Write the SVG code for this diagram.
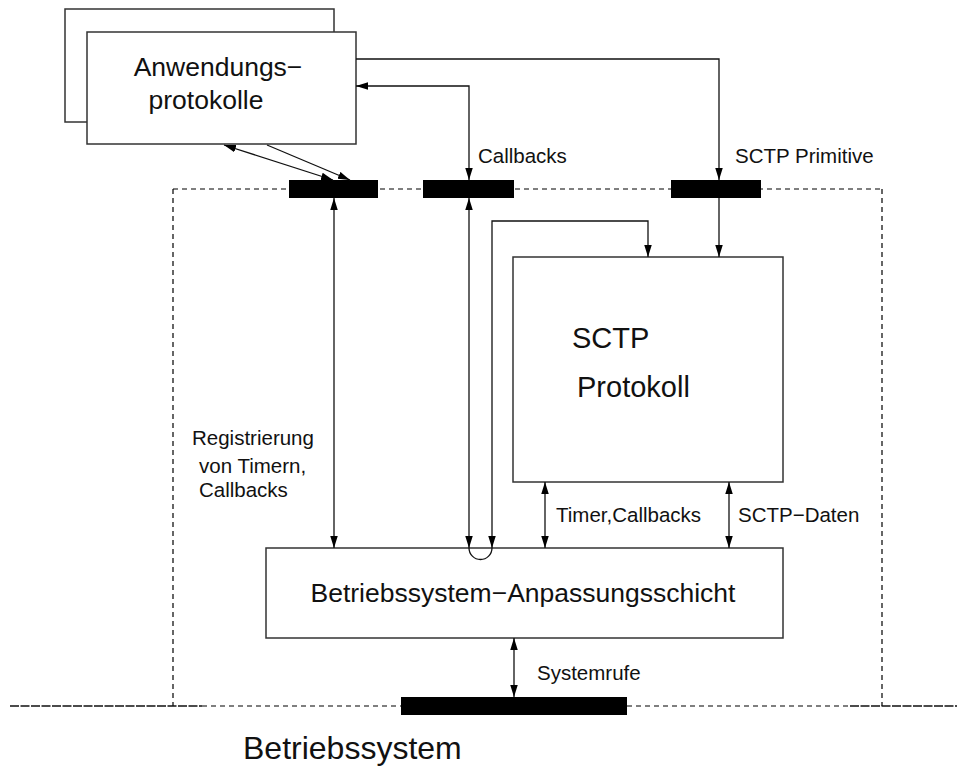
<svg xmlns="http://www.w3.org/2000/svg" width="957" height="771" viewBox="0 0 957 771">
  <style>
    .box { fill: #fff; stroke: #333; stroke-width: 1.5; }
    .bar { fill: #000; }
    .dash { fill: none; stroke: #000; stroke-width: 1.2; stroke-dasharray: 5 4; }
    .dense { fill: none; stroke: #111; stroke-width: 1.4; stroke-dasharray: 9 1.5; }
    .con { fill: none; stroke: #111; stroke-width: 1.3; }
    .big { font-family: "Liberation Sans", Arial, sans-serif; font-size: 26.5px; fill: #111; }
    .small { font-family: "Liberation Sans", Arial, sans-serif; font-size: 20.5px; fill: #111; }
  </style>
  <defs>
    <marker id="arr" markerUnits="userSpaceOnUse" markerWidth="13" markerHeight="10" refX="12" refY="3.75" orient="auto-start-reverse">
      <path d="M0,0 L12,3.75 L0,7.5 z" fill="#000"/>
    </marker>
  </defs>

  <!-- system boundary and OS line -->
  <g id="boundary">
    <path class="dash" d="M173,189 H882 M173,189 V706 M882,189 V706"/>
    <path class="dense" d="M10,706 H202"/>
    <path class="dense" d="M850,706 H957"/>
    <path class="dash" d="M202,706 H401 M627,706 H850"/>
  </g>

  <!-- interface bars -->
  <g id="bars">
    <rect class="bar" x="289" y="180" width="89" height="18"/>
    <rect class="bar" x="423" y="180" width="91" height="18"/>
    <rect class="bar" x="671" y="180" width="90" height="18"/>
    <rect class="bar" x="401" y="697" width="226" height="18"/>
  </g>

  <g id="anwendungsprotokolle">
    <rect class="box" x="65" y="9" width="269" height="113"/>
    <rect class="box" x="87" y="32" width="269" height="112"/>
    <text class="big" x="218" y="76" text-anchor="middle">Anwendungs−</text>
    <text class="big" x="206" y="109" text-anchor="middle">protokolle</text>
  </g>

  <g id="sctp">
    <rect class="box" x="513" y="257" width="270" height="225"/>
    <text class="big" x="572" y="348" style="font-size:29px">SCTP</text>
    <text class="big" x="577" y="397" style="font-size:29px">Protokoll</text>
  </g>

  <g id="anpassungsschicht">
    <rect class="box" x="266" y="548" width="517" height="90"/>
    <text class="big" x="523" y="602" text-anchor="middle">Betriebssystem−Anpassungsschicht</text>
  </g>

  <g id="betriebssystem">
    <text class="big" x="243" y="759" style="font-size:32px">Betriebssystem</text>
  </g>

  <!-- connectors -->
  <g id="connectors">
    <line class="con" x1="224" y1="145" x2="333" y2="180" marker-start="url(#arr)" marker-end="url(#arr)"/>
    <line class="con" x1="267" y1="145" x2="350" y2="180" marker-end="url(#arr)"/>
    <polyline class="con" points="356,86 469,86 469,180" marker-start="url(#arr)" marker-end="url(#arr)"/>
    <polyline class="con" points="356,59 719,59 719,180" marker-end="url(#arr)"/>
    <line class="con" x1="719" y1="198" x2="719" y2="257" marker-end="url(#arr)"/>
    <line class="con" x1="334" y1="198" x2="334" y2="548" marker-start="url(#arr)" marker-end="url(#arr)"/>
    <line class="con" x1="469" y1="198" x2="469" y2="548" marker-start="url(#arr)" marker-end="url(#arr)"/>
    <polyline class="con" points="492,548 492,221 648,221 648,257" marker-start="url(#arr)" marker-end="url(#arr)"/>
    <path class="con" d="M469,548 A11.5,11.5 0 0 0 492,548"/>
    <line class="con" x1="545" y1="482" x2="545" y2="548" marker-start="url(#arr)" marker-end="url(#arr)"/>
    <line class="con" x1="729" y1="482" x2="729" y2="548" marker-start="url(#arr)" marker-end="url(#arr)"/>
    <line class="con" x1="514" y1="638" x2="514" y2="697" marker-start="url(#arr)" marker-end="url(#arr)"/>
  </g>

  <g id="labels">
    <text class="small" x="478" y="163">Callbacks</text>
    <text class="small" x="735" y="163">SCTP Primitive</text>
    <text class="small" x="192" y="445">Registrierung</text>
    <text class="small" x="199" y="473">von Timern,</text>
    <text class="small" x="199" y="497">Callbacks</text>
    <text class="small" x="556" y="522">Timer,Callbacks</text>
    <text class="small" x="738" y="522">SCTP−Daten</text>
    <text class="small" x="537" y="680">Systemrufe</text>
  </g>
</svg>
